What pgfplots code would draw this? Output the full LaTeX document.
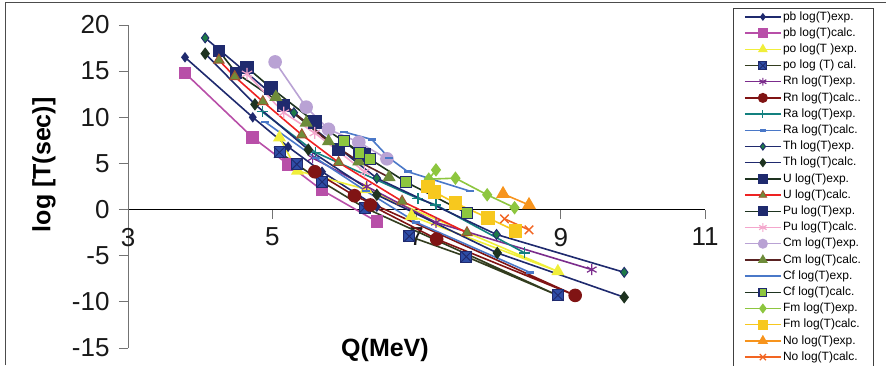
\documentclass[border=0pt]{standalone}
\usepackage{fontspec}
\setmainfont{Liberation Sans}
\usepackage{pgfplots}
\pgfplotsset{compat=1.18}
\usetikzlibrary{plotmarks}
\definecolor{navyc}{HTML}{1F2A6E}
\definecolor{magc}{HTML}{B84FA8}
\definecolor{yelc}{HTML}{F0EE3A}
\definecolor{olivec}{HTML}{333D1F}
\definecolor{bluesq}{HTML}{2E4DA6}
\definecolor{purplec}{HTML}{7B2C8C}
\definecolor{darkredc}{HTML}{801414}
\definecolor{tealc}{HTML}{13807F}
\definecolor{bluec}{HTML}{4A78C8}
\definecolor{greendia}{HTML}{1E7A48}
\definecolor{dkgreen}{HTML}{1E3320}
\definecolor{redc}{HTML}{EE2222}
\definecolor{olivetri}{HTML}{6E8C3A}
\definecolor{tribord}{HTML}{A0522D}
\definecolor{pinkc}{HTML}{F4A6CC}
\definecolor{lavc}{HTML}{B9A2D4}
\definecolor{brownc}{HTML}{5A2222}
\definecolor{limec}{HTML}{8DC63F}
\definecolor{goldc}{HTML}{F7C81E}
\definecolor{orangec}{HTML}{F7941D}
\definecolor{orangered}{HTML}{F26522}
\pgfdeclareplotmark{boxx}{%
 \pgfpathrectangle{\pgfqpoint{-\pgfplotmarksize}{-\pgfplotmarksize}}{\pgfqpoint{2\pgfplotmarksize}{2\pgfplotmarksize}}%
 \pgfusepathqfillstroke
 \pgfpathmoveto{\pgfqpoint{-\pgfplotmarksize}{-\pgfplotmarksize}}\pgfpathlineto{\pgfqpoint{\pgfplotmarksize}{\pgfplotmarksize}}%
 \pgfpathmoveto{\pgfqpoint{-\pgfplotmarksize}{\pgfplotmarksize}}\pgfpathlineto{\pgfqpoint{\pgfplotmarksize}{-\pgfplotmarksize}}%
 \pgfusepathqstroke}
\begin{document}
\begin{tikzpicture}
\useasboundingbox (0,0) rectangle (886pt,365pt);
\draw[black!70, line width=1pt] (5pt,0pt) -- (5pt,362pt) -- (886pt,362pt);
\begin{axis}[
  at={(128pt,17pt)}, anchor=south west,
  width=577pt, height=323pt, scale only axis,
  xmin=3, xmax=11, ymin=-15, ymax=20,
  axis x line*=middle, axis y line*=left,
  hide obscured x ticks=false,
  xtick={3,5,7,9,11}, ytick={-15,-10,-5,0,5,10,15,20},
  tick align=outside, major tick length=9pt,
  x axis line style={black, line width=0.9pt},
  y axis line style={black!55, line width=0.9pt},
  xtick style={black!55, line width=0.9pt},
  ytick style={black!55, line width=0.9pt},
  /pgf/number format/assume math mode=true,
  ticklabel style={font=\fontsize{26}{28}\selectfont, text=black!90},
  xticklabel style={yshift=-6pt},
  yticklabel style={xshift=-6pt},
  xlabel={\bfseries Q(MeV)}, ylabel={\bfseries log [T(sec)]},
  label style={font=\fontsize{25}{28}\selectfont},
  xlabel style={at={(axis description cs:0.4454,-0.006)}, anchor=center},
  ylabel style={at={(axis description cs:-0.1456,0.567)}, anchor=center},
  every axis plot/.append style={line width=1.6pt},
  legend image code/.code={\draw[mark repeat=2,mark phase=2, line width=1.4pt, every mark/.append style={scale=0.72}] plot coordinates {(0pt,0pt) (18pt,0pt) (36pt,0pt)};},
  legend cell align=left,
  legend style={at={(axis description cs:1.0485,1.0526)}, anchor=north west,
    draw=black!75, font=\fontsize{12}{14}\selectfont, inner xsep=11pt, inner ysep=1.5pt,
    row sep=1.8pt, nodes={inner sep=1.5pt, text height=8.8pt, text depth=2.6pt}},
]
% pb exp
\addplot[color=navyc, mark=diamond*, mark size=4pt, mark options={fill=navyc}] coordinates {(3.79,16.5) (4.73,10.0) (5.22,6.8) (5.69,4.1) (6.45,0.3)};
\addlegendentry{pb log(T)exp.}
% pb calc
\addplot[color=magc, mark=square*, mark size=5.5pt, mark options={fill=magc}] coordinates {(3.79,14.8) (4.73,7.8) (5.22,4.9) (5.69,2.1) (6.45,-1.3)};
\addlegendentry{pb log(T)calc.}
% po exp
\addplot[color=yelc, mark=triangle*, mark size=6pt, mark options={fill=yelc}] coordinates {(5.10,7.8) (5.35,4.2) (6.30,2.2) (8.96,-6.7) (6.93,-0.7)};
\addlegendentry{po log(T )exp.}
% po cal
\addplot[color=olivec, mark=boxx, mark size=5.5pt, mark options={fill=bluesq, draw=navyc, line width=0.9pt}] coordinates {(5.10,6.2) (5.34,4.9) (5.69,3.0) (6.28,0.2) (8.96,-9.3) (7.69,-5.1) (6.90,-2.9)};
\addlegendentry{po log (T) cal.}
% Rn exp
\addplot[color=purplec, mark=asterisk, mark size=5.5pt, mark options={line width=1.2pt}] coordinates {(5.56,5.6) (6.31,2.5) (7.27,-1.4) (9.43,-6.5)};
\addlegendentry{Rn log(T)exp.}
% Rn calc
\addplot[color=darkredc, mark=*, mark size=6pt, mark options={fill=darkredc}] coordinates {(5.59,4.1) (6.14,1.5) (9.20,-9.3) (7.28,-3.2) (6.36,0.5)};
\addlegendentry{Rn log(T)calc..}
% Ra exp
\addplot[color=tealc, mark=+, mark size=5.5pt, mark options={line width=1.2pt}] coordinates {(4.86,10.6) (5.60,6.2) (7.02,1.2) (7.27,0.5) (8.50,-4.7)};
\addlegendentry{Ra log(T)exp.}
% Ra calc
\addplot[color=bluec, mark=-, mark size=4pt, mark options={line width=2.5pt}] coordinates {(4.90,9.5) (5.60,5.6) (6.30,2.0) (7.00,-1.4) (8.57,-6.8)};
\addlegendentry{Ra log(T)calc.}
% Th exp
\addplot[color=navyc, mark=diamond*, mark size=5pt, mark options={fill=greendia, draw=navyc, line width=0.9pt}] coordinates {(4.07,18.6) (5.30,10.5) (6.45,3.4) (8.11,-2.7) (9.88,-6.8)};
\addlegendentry{Th log(T)exp.}
% Th calc
\addplot[color=navyc, mark=diamond*, mark size=5pt, mark options={fill=dkgreen, draw=dkgreen}] coordinates {(4.07,16.9) (4.76,11.4) (5.50,6.5) (6.45,1.6) (8.12,-4.7) (9.88,-9.5)};
\addlegendentry{Th log(T)calc.}
% U exp
\addplot[color=dkgreen, mark=square*, mark size=5.5pt, mark options={fill=navyc, draw=navyc}] coordinates {(4.26,17.2) (4.50,14.8) (5.16,11.3) (5.92,6.5)};
\addlegendentry{U log(T)exp.}
% U calc
\addplot[color=redc, mark=triangle*, mark size=6pt, mark options={fill=olivetri, draw=tribord, line width=0.9pt}] coordinates {(4.26,16.2) (4.48,14.4) (4.87,11.7) (5.41,8.1) (5.92,5.1) (6.80,0.9) (7.70,-2.5)};
\addlegendentry{U log(T)calc.}
% Pu exp
\addplot[color=dkgreen, mark=square*, mark size=6pt, mark options={fill=navyc, draw=navyc}] coordinates {(4.65,15.4) (4.98,13.2) (5.59,9.5) (6.28,5.9)};
\addlegendentry{Pu log(T)exp.}
% Pu calc
\addplot[color=pinkc, mark=asterisk, mark size=6pt, mark options={line width=1.2pt}] coordinates {(4.65,14.7) (5.16,10.5) (5.59,8.3) (6.28,4.1)};
\addlegendentry{Pu log(T)calc.}
% Cm exp
\addplot[color=lavc, mark=*, mark size=6pt, mark options={fill=lavc}] coordinates {(5.04,16.0) (5.47,11.1) (5.78,8.7) (6.20,7.3) (6.59,5.5)};
\addlegendentry{Cm log(T)exp.}
% Cm calc
\addplot[color=brownc, mark=triangle*, mark size=6pt, mark options={fill=olivetri, draw=olivetri}] coordinates {(5.05,12.2) (5.47,9.4) (5.78,7.4) (6.20,5.2) (6.62,3.5)};
\addlegendentry{Cm log(T)calc.}
% Cf exp
\addplot[color=bluec, mark=-, mark size=4pt, mark options={line width=2.5pt}] coordinates {(6.00,8.4) (6.38,7.6) (6.62,5.6) (6.88,4.1) (7.74,2.0)};
\addlegendentry{Cf log(T)exp.}
% Cf calc
\addplot[color=dkgreen, mark=square*, mark size=5.5pt, mark options={fill=limec, draw=navyc, line width=1.2pt}] coordinates {(5.99,7.4) (6.21,6.1) (6.35,5.5) (6.85,3.0) (7.70,-0.4)};
\addlegendentry{Cf log(T)calc.}
% Fm exp
\addplot[color=limec, mark=diamond*, mark size=5.5pt, mark options={fill=limec}] coordinates {(7.27,4.3) (7.17,3.3) (7.54,3.4) (7.98,1.6) (8.36,0.2)};
\addlegendentry{Fm log(T)exp.}
% Fm calc
\addplot[color=goldc, mark=square*, mark size=6pt, mark options={fill=goldc}] coordinates {(7.16,2.5) (7.25,1.9) (7.54,0.7) (7.99,-0.9) (8.37,-2.3)};
\addlegendentry{Fm log(T)calc.}
% No exp
\addplot[color=orangec, mark=triangle*, mark size=6.5pt, mark options={fill=orangec}] coordinates {(8.20,1.7) (8.56,0.5)};
\addlegendentry{No log(T)exp.}
% No calc
\addplot[color=orangered, mark=x, mark size=6pt, mark options={line width=1.4pt}] coordinates {(8.22,-1.0) (8.56,-2.2)};
\addlegendentry{No log(T)calc.}
\end{axis}
\end{tikzpicture}
\end{document}
